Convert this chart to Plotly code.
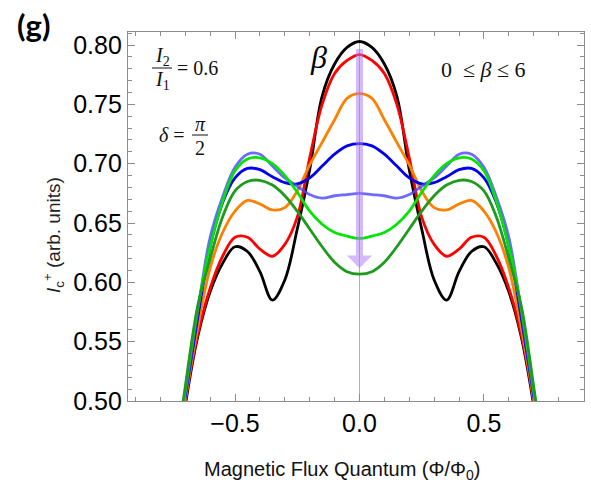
import plotly.graph_objects as go

# Flux values (units of the flux quantum)
flux = [-0.75, -0.70, -0.65, -0.60, -0.55, -0.50, -0.45, -0.40, -0.35, -0.30,
        -0.25, -0.20, -0.15, -0.10, -0.05, 0.00, 0.05, 0.10, 0.15, 0.20,
        0.25, 0.30, 0.35, 0.40, 0.45, 0.50, 0.55, 0.60, 0.65, 0.70, 0.75]

# Critical current I_c^+ for increasing beta (0 -> 6)
ic_beta0 = [0.420, 0.496, 0.554, 0.592, 0.616, 0.630, 0.626, 0.609, 0.585, 0.602,
            0.645, 0.695, 0.757, 0.784, 0.798, 0.803, 0.798, 0.784, 0.757, 0.695,
            0.645, 0.602, 0.585, 0.609, 0.626, 0.630, 0.616, 0.592, 0.554, 0.496, 0.420]
ic_beta1 = [0.423, 0.499, 0.556, 0.595, 0.622, 0.638, 0.638, 0.628, 0.622, 0.632,
            0.655, 0.705, 0.750, 0.776, 0.787, 0.792, 0.787, 0.776, 0.750, 0.705,
            0.655, 0.632, 0.622, 0.628, 0.638, 0.638, 0.622, 0.595, 0.556, 0.499, 0.423]
ic_beta2 = [0.425, 0.501, 0.562, 0.612, 0.642, 0.660, 0.669, 0.666, 0.661, 0.663,
            0.677, 0.699, 0.718, 0.737, 0.755, 0.759, 0.755, 0.737, 0.718, 0.699,
            0.677, 0.663, 0.661, 0.666, 0.669, 0.660, 0.642, 0.612, 0.562, 0.501, 0.425]
ic_beta3 = [0.430, 0.504, 0.570, 0.630, 0.667, 0.688, 0.696, 0.695, 0.689, 0.684,
            0.683, 0.688, 0.698, 0.708, 0.715, 0.717, 0.715, 0.708, 0.698, 0.688,
            0.683, 0.684, 0.689, 0.695, 0.696, 0.688, 0.667, 0.630, 0.570, 0.504, 0.430]
ic_beta4 = [0.430, 0.505, 0.575, 0.638, 0.672, 0.697, 0.708, 0.708, 0.698, 0.688,
            0.681, 0.674, 0.671, 0.673, 0.674, 0.675, 0.674, 0.673, 0.671, 0.674,
            0.681, 0.688, 0.698, 0.708, 0.708, 0.697, 0.672, 0.638, 0.575, 0.505, 0.430]
ic_beta5 = [0.435, 0.509, 0.578, 0.630, 0.668, 0.694, 0.704, 0.705, 0.700, 0.690,
            0.676, 0.660, 0.649, 0.642, 0.639, 0.637, 0.639, 0.642, 0.649, 0.660,
            0.676, 0.690, 0.700, 0.705, 0.704, 0.694, 0.668, 0.630, 0.578, 0.509, 0.435]
ic_beta6 = [0.438, 0.512, 0.580, 0.620, 0.655, 0.677, 0.685, 0.686, 0.682, 0.673,
            0.660, 0.645, 0.630, 0.617, 0.609, 0.607, 0.609, 0.617, 0.630, 0.645,
            0.660, 0.673, 0.682, 0.686, 0.685, 0.677, 0.655, 0.620, 0.580, 0.512, 0.438]

series = [ic_beta0, ic_beta1, ic_beta2, ic_beta3, ic_beta4, ic_beta5, ic_beta6]
colors = ["#000000", "#ff0000", "#ff8000", "#0000ee",
          "rgba(70,70,255,0.8)", "#00e600", "#1e9a1e"]

# Arrow indicating increasing beta at zero flux
arrow_top = 0.798
arrow_tip = 0.612

W, H = 591, 490
L, R, T, B = 128, 7, 32, 89
PW, PH = W - L - R, H - T - B


def px(xp):
    return (xp - L) / PW


def py(yp):
    return 1 - (yp - T) / PH


fig = go.Figure()
for vals, col in zip(series, colors):
    fig.add_trace(go.Scatter(x=flux, y=vals, mode="lines",
                             line=dict(color=col, width=2.8, shape="spline", smoothing=1.0),
                             showlegend=False, hoverinfo="skip"))

axis_common = dict(showline=True, linecolor="#8c8c8c", linewidth=1.2, mirror="allticks",
                   ticks="inside", ticklen=7, tickcolor="#8c8c8c", tickwidth=1,
                   showgrid=False,
                   tickfont=dict(family="Liberation Sans, Arial", size=25, color="#000"))

fig.update_xaxes(range=[-0.930, 0.902], dtick=0.5, tick0=0, tickformat=".1f",
                 zeroline=True, zerolinecolor="#b0b0b0", zerolinewidth=1.2,
                 minor=dict(ticks="inside", ticklen=4, dtick=0.1, tick0=0,
                            tickcolor="#8c8c8c", showgrid=False),
                 **axis_common)
fig.update_yaxes(range=[0.50, 0.811], dtick=0.05, tick0=0.5, tickformat=".2f",
                 zeroline=False,
                 minor=dict(ticks="inside", ticklen=4, dtick=0.01, tick0=0.5,
                            tickcolor="#8c8c8c", showgrid=False),
                 **axis_common)

fig.add_annotation(x=0, y=arrow_tip, ax=0, ay=arrow_top, xref="x", yref="y",
                   axref="x", ayref="y", text="", showarrow=True, arrowhead=1,
                   arrowsize=0.6, arrowwidth=7, arrowcolor="rgba(170,120,245,0.5)",
                   standoff=0)

serif = "Liberation Serif, DejaVu Serif"
math_font = dict(family=serif, size=20, color="#111")


def label(xp, yp, text, font, **kw):
    fig.add_annotation(x=px(xp), y=py(yp), xref="paper", yref="paper", showarrow=False,
                       xanchor=kw.pop("xanchor", "center"), yanchor=kw.pop("yanchor", "middle"),
                       text=text, font=font, **kw)


def bar(x0, x1, yp):
    fig.add_shape(type="line", xref="paper", yref="paper", x0=px(x0), x1=px(x1),
                  y0=py(yp), y1=py(yp), line=dict(color="#111", width=1))


# Panel label
label(33, 25, "<b>(g)</b>", dict(family="Lato, Liberation Sans", size=31, color="#000"))

# I2 / I1 = 0.6
label(162, 56, "<i>I</i><sub>2</sub>", math_font)
bar(152, 172, 68)
label(162, 81, "<i>I</i><sub>1</sub>", math_font)
label(175, 68, "= 0.6", math_font, xanchor="left")

# delta = pi / 2
label(157, 135, "<i>δ</i> =", math_font, xanchor="left")
bar(192, 208, 135)
label(200, 124, "<i>π</i>", math_font)
label(200, 148, "2", math_font)

# beta labels
label(318, 57, "<i>β</i>", dict(family=serif, size=32, color="#000"))
label(483, 69, "0  ≤ <i>β</i> ≤ 6", dict(family=serif, size=22, color="#111"))

# Axis titles
label(342, 470, "Magnetic Flux Quantum (Φ/Φ<sub>0</sub>)",
      dict(family="Liberation Sans, Arial", size=20, color="#111"))
label(53, 235, "<i>I</i><sub>c</sub><sup>+</sup> (arb. units)",
      dict(family="Liberation Sans, Arial", size=19, color="#222"), textangle=-90)

fig.update_layout(width=W, height=H, margin=dict(l=L, r=R, t=T, b=B),
                  paper_bgcolor="white", plot_bgcolor="white")

fig.write_html("out.html")
